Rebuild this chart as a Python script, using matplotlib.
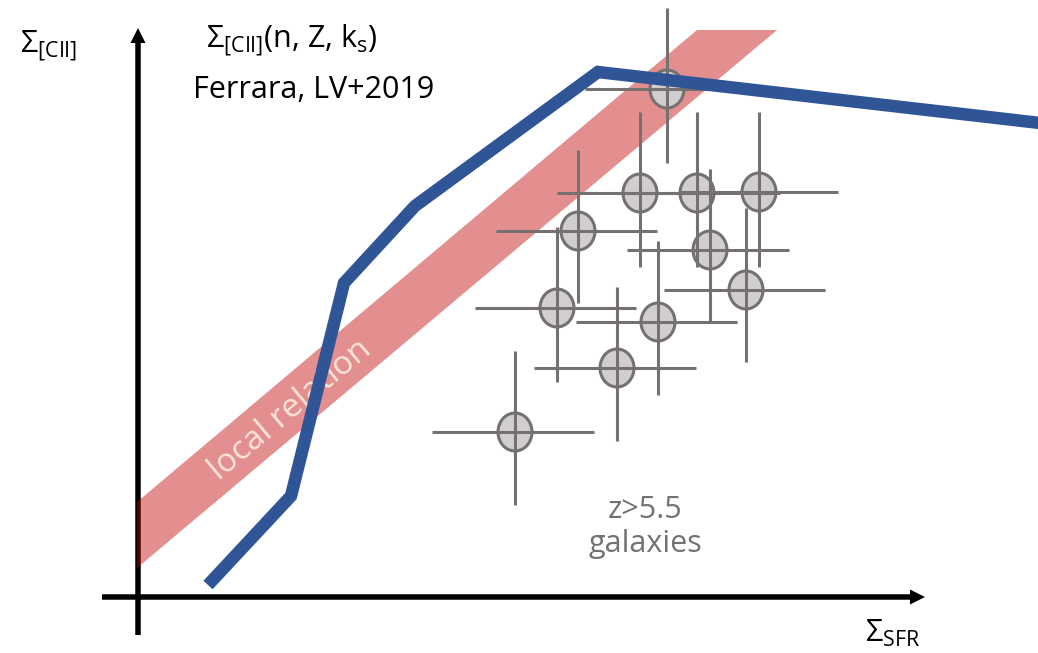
"""
Schematic of the [CII]-SFR surface density relation: local relation band,
model curve and high-z galaxies with error bars.
"""

import matplotlib

matplotlib.use("Agg")
import matplotlib.pyplot as plt
from matplotlib.patches import Ellipse, Polygon

plt.rcParams["font.family"] = ["Open Sans", "DejaVu Sans"]
plt.rcParams["mathtext.fontset"] = "custom"
plt.rcParams["mathtext.rm"] = "Open Sans"
plt.rcParams["mathtext.it"] = "Open Sans:italic"
plt.rcParams["mathtext.sf"] = "Open Sans"

W, H = 1038, 653

# axes of the sketch (canvas units)
X_AXIS = dict(x0=102, x1=925, y=597)
Y_AXIS = dict(x=138, y0=635, y1=28)

# local relation band
BAND_X = [137, 697, 777, 137]
BAND_Y = [502, 30, 30, 568]

# model curve Sigma_[CII](n, Z, k_s)
CURVE_X = [208, 291, 344, 415, 598, 1040]
CURVE_Y = [585, 496, 283, 206, 72, 123]

# z > 5.5 galaxies: centre and error bar extents
GAL_X = [667, 640, 697, 759, 578, 710, 746, 557, 658, 617, 515]
GAL_Y = [89, 193, 193, 192, 231, 250, 290, 308, 322, 368, 432]
GAL_XLO = [585, 557, 614, 680, 496, 627, 664, 475, 576, 534, 432]
GAL_XHI = [751, 723, 780, 838, 657, 789, 825, 636, 737, 696, 594]
GAL_YLO = [8, 112, 112, 112, 150, 169, 208, 227, 241, 287, 351]
GAL_YHI = [163, 267, 267, 267, 303, 323, 362, 382, 395, 441, 505]

BLUE = "#2f5597"
GREY = "#767171"
FILL = "#d0cece"

fig = plt.figure(figsize=(W / 100, H / 100), dpi=100)
ax = fig.add_axes([0, 0, 1, 1])
ax.set_xlim(0, W)
ax.set_ylim(H, 0)
ax.axis("off")

# axes arrows
ax.arrow(X_AXIS["x0"], X_AXIS["y"], X_AXIS["x1"] - X_AXIS["x0"], 0,
         width=5.5, head_width=15, head_length=15, length_includes_head=True,
         color="black", lw=0, zorder=1)
ax.arrow(Y_AXIS["x"], Y_AXIS["y0"], 0, Y_AXIS["y1"] - Y_AXIS["y0"],
         width=5.5, head_width=15, head_length=15, length_includes_head=True,
         color="black", lw=0, zorder=1)

ax.add_patch(Polygon(list(zip(BAND_X, BAND_Y)), closed=True,
                     facecolor="#c00000", alpha=0.44, lw=0, zorder=2))
ax.text(290, 410, "local relation", rotation=40, fontsize=24,
        color="#fbe5d6", ha="center", va="center", zorder=2.5)

for x, y in zip(GAL_X, GAL_Y):
    ax.add_patch(Ellipse((x, y), 34, 38, facecolor=FILL, edgecolor=GREY,
                         lw=2.2, zorder=3))
ax.hlines(GAL_Y, GAL_XLO, GAL_XHI, color=GREY, lw=2.2, zorder=4)
ax.vlines(GAL_X, GAL_YLO, GAL_YHI, color=GREY, lw=2.2, zorder=4)

ax.plot(CURVE_X, CURVE_Y, color=BLUE, lw=9, solid_capstyle="butt",
        solid_joinstyle="miter", zorder=5)

ax.text(49, 45, r"$\Sigma_{\mathrm{[CII]}}$", fontsize=22, ha="center",
        va="center")
ax.text(292, 40, r"$\Sigma_{\mathrm{[CII]}}$(n, Z, k$_{\mathrm{s}}$)",
        fontsize=22, ha="center", va="center")
ax.text(314, 90, "Ferrara, LV+2019", fontsize=22, ha="center", va="center")
ax.text(893, 633, r"$\Sigma_{\mathrm{SFR}}$", fontsize=22, ha="center",
        va="center")
ax.text(645, 527, "z>5.5\ngalaxies", fontsize=22, color=GREY, ha="center",
        va="center", linespacing=1.2)

fig.savefig("out.png", dpi=100)
